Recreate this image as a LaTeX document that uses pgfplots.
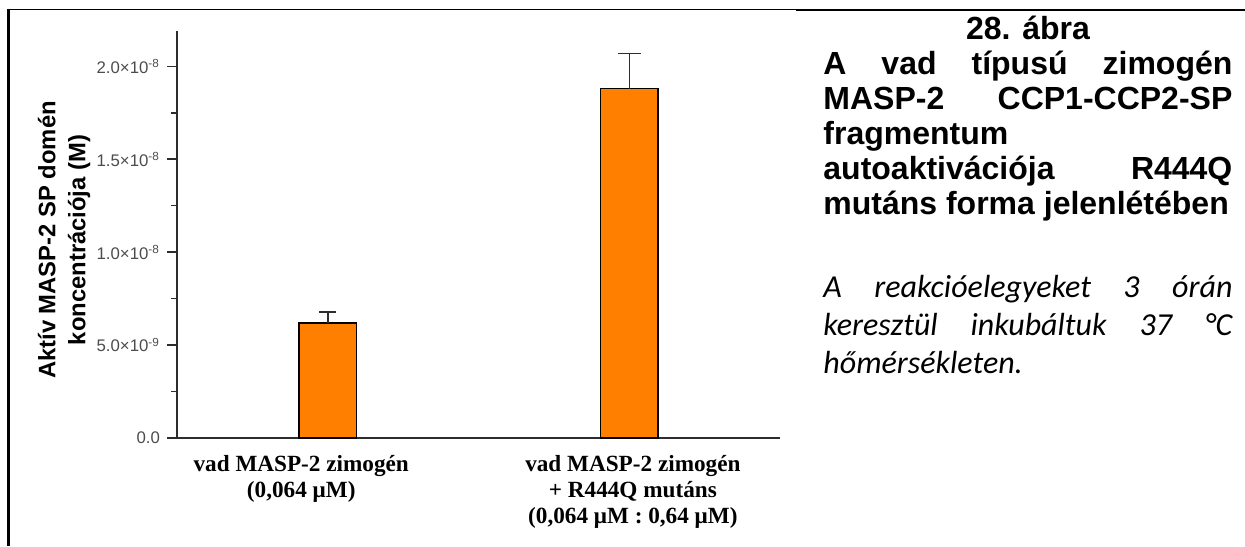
\documentclass[border=0pt]{standalone}
\usepackage{fontspec}
\setmainfont{Liberation Sans}
\newfontfamily\timesf{Liberation Serif}
\newfontfamily\carlito{Carlito}
\usepackage{pgfplots}
\pgfplotsset{compat=1.18}
\definecolor{barorange}{RGB}{255,128,0}
\definecolor{axisgray}{RGB}{45,45,45}
\begin{document}
\begin{tikzpicture}
\useasboundingbox (0,0) rectangle (622.5pt,273pt);
% frame of the cell
\draw[line width=0.6pt] (4.25pt,268.3pt) -- (398pt,268.3pt);
\draw[line width=1pt] (398pt,268pt) -- (622.5pt,268pt);
\draw[line width=1.3pt] (4.25pt,268.6pt) -- (4.25pt,0pt);

\begin{axis}[
  at={(88.5pt,54pt)}, anchor=south west,
  scale only axis, width=301.5pt, height=203.5pt,
  xmin=-0.5, xmax=1.5, ymin=0, ymax=2.19e-8,
  axis x line=bottom, axis y line=left,
  axis line style={-, line width=0.9pt, axisgray},
  xtick={-0.088,1.012},
  xticklabels={{vad MASP-2 zimogén\\(0,064 μM)},{vad MASP-2 zimogén\\+ R444Q mutáns\\(0,064 μM : 0,64 μM)}},
  x tick style={draw=none},
  xticklabel style={align=center, font=\timesf\bfseries\fontsize{11.6}{13}\selectfont, yshift=0pt},
  ytick={0,5e-9,1e-8,1.5e-8,2e-8},
  yticklabels={0.0, 5.0×10\textsuperscript{-9}, 1.0×10\textsuperscript{-8}, 1.5×10\textsuperscript{-8}, 2.0×10\textsuperscript{-8}},
  minor y tick num=1,
  y tick style={line width=0.8pt, axisgray},
  tick align=outside,
  major tick length=5pt, minor tick length=3pt,
  yticklabel style={font=\fontsize{8.4}{10}\selectfont, text=black!70},
  scaled y ticks=false,
  clip=false,
]
\addplot[ybar, bar width=0.192, bar shift=0pt, fill=barorange, draw=black, line width=0.8pt,
  error bars/.cd, y dir=plus, y explicit,
  error bar style={line width=0.75pt, axisgray},
  error mark options={rotate=90, line width=0.75pt, mark size=4.25pt, axisgray}]
  coordinates {(0,6.18e-9) +- (0,0.60e-9)};
\addplot[ybar, bar width=0.192, bar shift=0pt, fill=barorange, draw=black, line width=0.8pt,
  error bars/.cd, y dir=plus, y explicit,
  error bar style={line width=0.75pt, axisgray},
  error mark options={rotate=90, line width=0.75pt, mark size=5.75pt, axisgray}]
  coordinates {(1,1.88e-8) +- (0,0.19e-8)};
\end{axis}

\node[rotate=90, align=center, font=\bfseries\fontsize{11.9}{15}\selectfont] at (32pt,153pt)
  {Aktív MASP-2 SP domén\\koncentrációja (M)};

% caption text on the right
\node[anchor=base, inner sep=0, font=\bfseries\fontsize{16}{18}\selectfont] at (514pt,253pt) {28. ábra};
\node[anchor=base west, inner sep=0, font=\bfseries\fontsize{16}{18}\selectfont] at (411.5pt,235.5pt) {\makebox[204.5pt][s]{A vad típusú zimogén}};
\node[anchor=base west, inner sep=0, font=\bfseries\fontsize{16}{18}\selectfont] at (411.5pt,218pt) {\makebox[204.5pt][s]{MASP-2 CCP1-CCP2-SP}};
\node[anchor=base west, inner sep=0, font=\bfseries\fontsize{16}{18}\selectfont] at (411.5pt,200.5pt) {fragmentum};
\node[anchor=base west, inner sep=0, font=\bfseries\fontsize{16}{18}\selectfont] at (411.5pt,183pt) {\makebox[204.5pt][s]{autoaktivációja R444Q}};
\node[anchor=base west, inner sep=0, font=\bfseries\fontsize{16}{18}\selectfont] at (411.5pt,165.5pt) {mutáns forma jelenlétében};

\node[anchor=base west, inner sep=0, font=\carlito\itshape\fontsize{16}{19}\selectfont] at (411.5pt,124pt) {\makebox[204.5pt][s]{A reakcióelegyeket 3 órán}};
\node[anchor=base west, inner sep=0, font=\carlito\itshape\fontsize{16}{19}\selectfont] at (411.5pt,105pt) {\makebox[204.5pt][s]{keresztül inkubáltuk 37 °C}};
\node[anchor=base west, inner sep=0, font=\carlito\itshape\fontsize{16}{19}\selectfont] at (411.5pt,86pt) {hőmérsékleten.};
\end{tikzpicture}
\end{document}
